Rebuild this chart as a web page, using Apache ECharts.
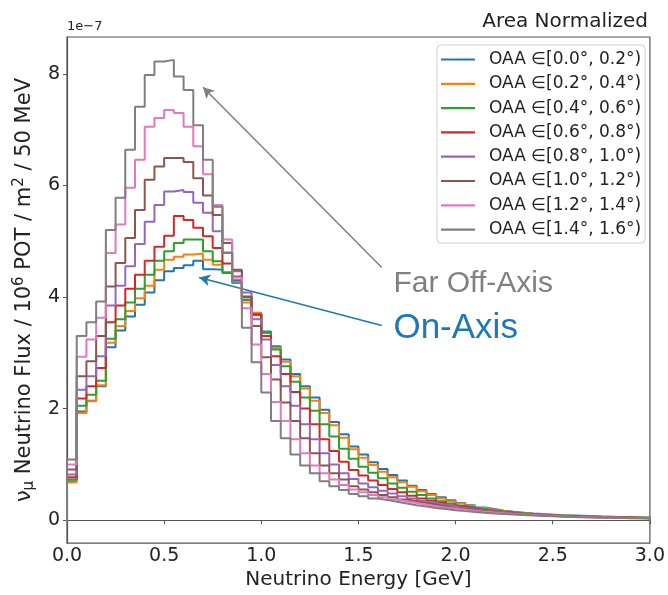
<!DOCTYPE html>
<html>
<head>
<meta charset="utf-8">
<script src="https://cdn.jsdelivr.net/npm/echarts@6.0.0/dist/echarts.min.js"></script>
<style>
html,body{margin:0;padding:0;background:#fff;}
#c{width:668px;height:595px;}
</style>
</head>
<body>
<div id="c"></div>
<script>
// Bin edges in GeV (50 MeV bins)
const binEdges = [0.00,0.05,0.10,0.15,0.20,0.25,0.30,0.35,0.40,0.45,0.50,0.55,0.60,0.65,0.70,0.75,0.80,0.85,0.90,0.95,
1.00,1.05,1.10,1.15,1.20,1.25,1.30,1.35,1.40,1.45,1.50,1.55,1.60,1.65,1.70,1.75,1.80,1.85,1.90,1.95,
2.00,2.05,2.10,2.15,2.20,2.25,2.30,2.35,2.40,2.45,2.50,2.55,2.60,2.65,2.70,2.75,2.80,2.85,2.90,2.95,3.00];

const seriesNames = [
  'OAA \u2208[0.0\u00b0, 0.2\u00b0)',
  'OAA \u2208[0.2\u00b0, 0.4\u00b0)',
  'OAA \u2208[0.4\u00b0, 0.6\u00b0)',
  'OAA \u2208[0.6\u00b0, 0.8\u00b0)',
  'OAA \u2208[0.8\u00b0, 1.0\u00b0)',
  'OAA \u2208[1.0\u00b0, 1.2\u00b0)',
  'OAA \u2208[1.2\u00b0, 1.4\u00b0)',
  'OAA \u2208[1.4\u00b0, 1.6\u00b0)'
];

// Flux per bin, in units of 1e-7
const oaa00_02 = [0.70,1.95,2.14,2.40,3.10,3.40,3.65,3.86,4.08,4.30,4.46,4.52,4.57,4.65,4.50,4.49,4.45,4.30,3.95,3.70,
3.38,3.12,2.88,2.62,2.40,2.20,1.98,1.76,1.54,1.32,1.18,1.04,0.92,0.81,0.71,0.62,0.54,0.47,0.41,0.36,
0.31,0.27,0.23,0.20,0.17,0.15,0.135,0.12,0.11,0.10,0.09,0.085,0.08,0.074,0.068,0.063,0.058,0.054,0.05,0.047];
const oaa02_04 = [0.68,1.92,2.13,2.42,3.18,3.48,3.75,3.98,4.20,4.49,4.67,4.72,4.76,4.78,4.67,4.58,4.45,4.25,3.90,3.72,
3.36,3.09,2.84,2.58,2.36,2.14,1.92,1.70,1.48,1.27,1.12,0.99,0.87,0.77,0.68,0.60,0.52,0.45,0.39,0.34,
0.30,0.26,0.22,0.19,0.165,0.145,0.13,0.118,0.107,0.097,0.088,0.082,0.076,0.07,0.065,0.06,0.056,0.052,0.048,0.045];
const oaa04_06 = [0.73,2.05,2.25,2.50,3.25,3.60,3.90,4.15,4.40,4.65,4.82,4.97,5.03,5.03,4.82,4.64,4.43,4.26,3.95,3.68,
3.36,3.06,2.76,2.48,2.20,1.96,1.72,1.50,1.28,1.10,0.96,0.85,0.75,0.66,0.58,0.51,0.45,0.39,0.34,0.30,
0.26,0.23,0.20,0.175,0.155,0.138,0.123,0.11,0.10,0.092,0.085,0.078,0.072,0.066,0.061,0.057,0.053,0.049,0.046,0.043];
const oaa06_08 = [0.77,2.18,2.40,2.73,3.55,3.85,4.15,4.40,4.65,4.90,5.10,5.45,5.38,5.24,5.09,4.88,4.60,4.37,4.01,3.69,
3.30,2.94,2.62,2.30,2.00,1.72,1.45,1.24,1.05,0.90,0.80,0.71,0.63,0.56,0.50,0.44,0.39,0.35,0.31,0.27,
0.24,0.21,0.185,0.165,0.147,0.132,0.118,0.106,0.096,0.088,0.08,0.074,0.068,0.063,0.058,0.054,0.05,0.047,0.044,0.041];
const oaa08_10 = [0.82,2.34,2.58,2.94,3.85,4.20,4.55,4.95,5.35,5.65,5.89,5.92,5.88,5.69,5.51,5.18,4.80,4.46,4.08,3.60,
3.24,2.78,2.40,2.05,1.72,1.45,1.20,1.00,0.84,0.74,0.66,0.59,0.53,0.48,0.43,0.39,0.35,0.31,0.28,0.25,
0.22,0.195,0.175,0.157,0.141,0.127,0.114,0.103,0.094,0.086,0.079,0.072,0.066,0.061,0.056,0.052,0.048,0.045,0.042,0.039];
const oaa10_12 = [0.91,2.58,2.85,3.30,4.19,4.61,5.06,5.56,6.10,6.34,6.49,6.49,6.42,6.13,5.82,5.47,4.97,4.49,4.00,3.48,
2.92,2.52,2.11,1.78,1.47,1.20,0.98,0.84,0.73,0.61,0.55,0.50,0.45,0.41,0.37,0.34,0.31,0.28,0.25,0.22,
0.20,0.18,0.16,0.145,0.13,0.118,0.107,0.097,0.088,0.08,0.073,0.067,0.062,0.057,0.053,0.049,0.046,0.043,0.04,0.037];
const oaa12_14 = [1.00,2.93,3.24,3.63,4.79,5.30,5.96,6.46,7.05,7.21,7.35,7.30,7.05,6.70,6.20,5.65,5.03,4.35,3.80,3.15,
2.62,2.12,1.78,1.45,1.20,0.98,0.84,0.73,0.63,0.55,0.50,0.45,0.41,0.37,0.34,0.31,0.28,0.25,0.23,0.21,
0.19,0.17,0.153,0.138,0.125,0.113,0.102,0.093,0.085,0.077,0.07,0.064,0.059,0.054,0.05,0.046,0.043,0.04,0.037,0.035];
const oaa14_16 = [1.09,3.30,3.55,3.92,5.20,5.78,6.64,7.41,7.98,8.22,8.25,7.95,7.71,7.08,6.46,5.62,4.79,4.26,3.45,2.83,
2.29,1.78,1.47,1.18,0.98,0.84,0.70,0.61,0.54,0.47,0.43,0.39,0.36,0.33,0.30,0.27,0.245,0.22,0.20,0.18,
0.163,0.148,0.134,0.122,0.111,0.101,0.092,0.084,0.077,0.07,0.064,0.059,0.054,0.05,0.046,0.043,0.04,0.037,0.034,0.032];

const allValues = [oaa00_02, oaa02_04, oaa04_06, oaa06_08, oaa08_10, oaa10_12, oaa12_14, oaa14_16];
const colors = ['#1f77b4','#ff7f0e','#2ca02c','#d62728','#9467bd','#8c564b','#e377c2','#7f7f7f'];

const yTicks = [0, 2, 4, 6, 8];

// Annotations (data coordinates)
const farArrow = {from: [1.62, 4.53], to: [0.70, 7.76]};
const onArrow = {from: [1.62, 3.49], to: [0.68, 4.35]};
const farText = {text: 'Far Off-Axis', at: [1.68, 4.24]};
const onText = {text: 'On-Axis', at: [1.68, 3.44]};

function stepPoints(vals) {
  const pts = [[binEdges[0], 0]];
  for (let i = 0; i < vals.length; i++) pts.push([binEdges[i], vals[i]]);
  pts.push([binEdges[vals.length], vals[vals.length - 1]]);
  pts.push([binEdges[vals.length], 0]);
  return pts;
}

const FONT = 'DejaVu Sans';
const chart = echarts.init(document.getElementById('c'), null, {renderer: 'canvas'});

const series = allValues.map((vals, k) => ({
  name: seriesNames[k],
  type: 'line',
  step: 'end',
  data: stepPoints(vals),
  showSymbol: false,
  symbol: 'none',
  color: colors[k],
  lineStyle: {width: 2, color: colors[k]},
  emphasis: {disabled: true},
  animation: false,
  z: 2 + k
}));

series.push({
  type: 'line',
  data: [],
  silent: true,
  animation: false,
  markLine: {
    silent: true,
    animation: false,
    symbol: ['none', 'arrow'],
    symbolSize: [9, 11],
    label: {show: false},
    emphasis: {disabled: true},
    data: [
      [{coord: farArrow.from, lineStyle: {color: '#808080', width: 1.5, type: 'solid'}, itemStyle: {color: '#808080'}}, {coord: farArrow.to}],
      [{coord: onArrow.from, lineStyle: {color: '#1f77b4', width: 1.5, type: 'solid'}, itemStyle: {color: '#1f77b4'}}, {coord: onArrow.to}]
    ]
  }
});

const option = {
  animation: false,
  backgroundColor: '#fff',
  textStyle: {fontFamily: FONT},
  grid: {left: 67, right: 16, top: 37, bottom: 51, show: true, borderColor: '#555', borderWidth: 1.2, containLabel: false},
  title: {
    text: 'Area Normalized', right: 15, top: 7,
    textStyle: {fontFamily: FONT, fontSize: 20, fontWeight: 'normal', color: '#222'}
  },
  legend: {
    orient: 'vertical', left: 437, top: 45,
    data: seriesNames,
    icon: 'rect', itemWidth: 34, itemHeight: 2.2, itemGap: 7.3,
    padding: [6, 4, 5, 4],
    backgroundColor: '#fff', borderColor: '#d0d0d0', borderWidth: 1, borderRadius: 4,
    textStyle: {fontFamily: FONT, fontSize: 17, color: '#222', lineHeight: 17, padding: [0, 0, 0, 9]},
    selectedMode: false
  },
  xAxis: {
    type: 'value', min: 0, max: 3, interval: 0.5,
    name: 'Neutrino Energy [GeV]', nameLocation: 'middle', nameGap: 24,
    nameTextStyle: {fontFamily: FONT, fontSize: 20, color: '#222'},
    axisLine: {show: true, lineStyle: {color: '#555', width: 1.2}},
    axisTick: {show: true, inside: false, length: 4, lineStyle: {color: '#555'}},
    axisLabel: {fontFamily: FONT, fontSize: 19, color: '#222', margin: 3, formatter: v => v.toFixed(1)},
    splitLine: {show: false}
  },
  yAxis: {
    type: 'value', min: -0.41, max: 8.66,
    name: '{n|\u03bd}{sub|\u03bc}{n| Neutrino Flux / 10}{sup|6}{n| POT / m}{sup|2}{n| / 50 MeV}',
    nameLocation: 'middle', nameGap: 26,
    nameTextStyle: {
      fontFamily: FONT, fontSize: 21, color: '#222',
      rich: {
        n: {fontFamily: FONT, fontSize: 21, color: '#222'},
        sub: {fontFamily: FONT, fontSize: 15, color: '#222', verticalAlign: 'bottom', padding: [10, 0, 0, 0]},
        sup: {fontFamily: FONT, fontSize: 15, color: '#222', verticalAlign: 'top', padding: [0, 0, 10, 0]}
      }
    },
    axisLine: {show: true, lineStyle: {color: '#555', width: 1.2}},
    axisTick: {show: true, inside: false, length: 4, lineStyle: {color: '#555'}, customValues: yTicks},
    axisLabel: {fontFamily: FONT, fontSize: 19, color: '#222', margin: 7, customValues: yTicks, formatter: v => String(Math.round(v))},
    splitLine: {show: false}
  },
  series: series
};

chart.setOption(option);

function drawTexts() {
  const pf = chart.convertToPixel({gridIndex: 0}, farText.at);
  const po = chart.convertToPixel({gridIndex: 0}, onText.at);
  const topLeft = chart.convertToPixel({gridIndex: 0}, [0, 8.66]);
  chart.setOption({
    graphic: [
      {type: 'text', left: topLeft[0], top: topLeft[1] - 17, silent: true,
       style: {text: '1e\u22127', fontFamily: FONT, fontSize: 13, fill: '#222'}},
      {type: 'text', x: pf[0], y: pf[1], silent: true,
       style: {text: farText.text, fontFamily: 'Liberation Sans', fontSize: 30, fill: '#808080', textVerticalAlign: 'middle', textAlign: 'left'}},
      {type: 'text', x: po[0], y: po[1], silent: true,
       style: {text: onText.text, fontFamily: 'Liberation Sans', fontSize: 35, fill: '#1f77b4', textVerticalAlign: 'middle', textAlign: 'left'}}
    ]
  });
}
drawTexts();
</script>
</body>
</html>
